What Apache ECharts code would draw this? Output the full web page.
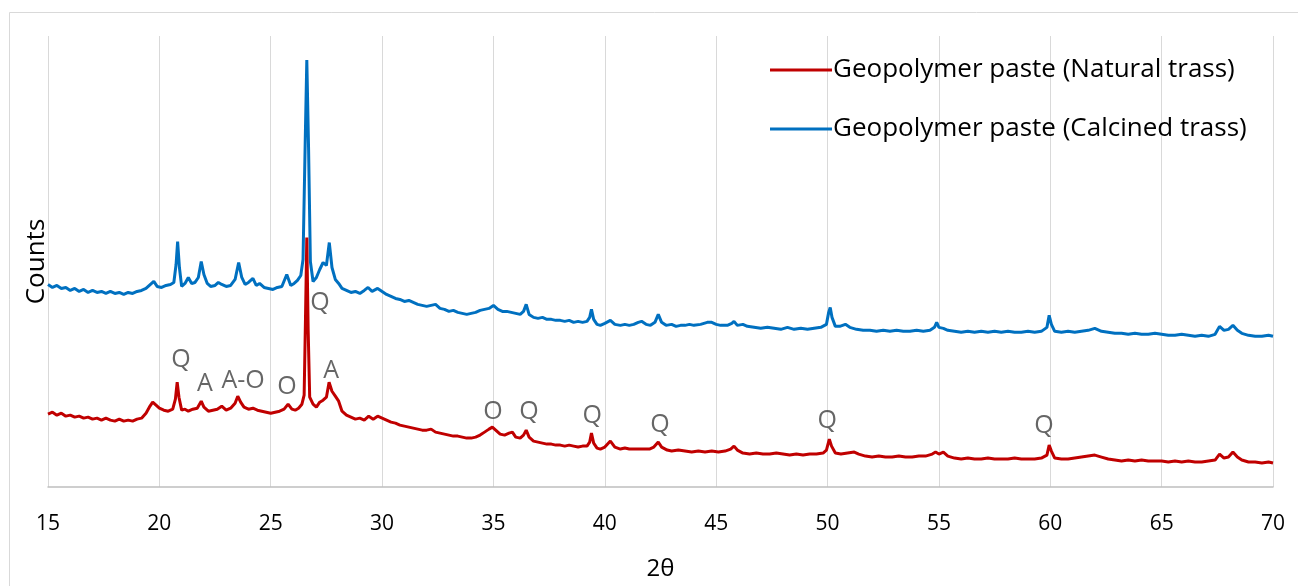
<!DOCTYPE html>
<html>
<head>
<meta charset="utf-8">
<script src="https://cdn.jsdelivr.net/npm/echarts@6/dist/echarts.min.js"></script>
<style>
html,body{margin:0;padding:0;background:#fff;}
#chart{width:1298px;height:586px;}
</style>
</head>
<body>
<div id="chart"></div>
<script>
// x tick settings
const xMin = 15, xMax = 70, xStep = 5;

const seriesNames = ['Geopolymer paste (Natural trass)', 'Geopolymer paste (Calcined trass)'];

// Geopolymer paste (Natural trass) — [2θ, counts (arbitrary)]
const naturalTrass = [
[15.0,73],[15.2,75],[15.4,72],[15.6,74],[15.8,71],[16.0,72],[16.2,70],[16.4,71],[16.6,69],[16.8,70],
[17.0,68],[17.2,69],[17.4,67],[17.6,69],[17.8,67],[18.0,66],[18.2,68],[18.4,66],[18.6,67],[18.8,66],
[19.0,68],[19.2,69],[19.4,74],[19.55,80],[19.7,85],[19.85,82],[20.0,79],[20.2,77],[20.4,76],[20.6,78],
[20.72,88],[20.8,105],[20.88,90],[21.0,77],[21.15,78],[21.3,76],[21.5,78],[21.7,79],[21.88,86],[22.0,80],
[22.2,76],[22.4,77],[22.6,78],[22.8,81],[23.0,77],[23.2,79],[23.4,84],[23.52,91],[23.65,85],[23.8,80],
[24.0,78],[24.2,79],[24.4,77],[24.6,76],[24.8,75],[25.0,74],[25.2,75],[25.4,76],[25.6,78],[25.78,83],
[25.95,78],[26.1,77],[26.25,79],[26.4,83],[26.5,92],[26.56,168],[26.62,250],[26.68,158],[26.75,90],[26.9,83],
[27.05,80],[27.2,85],[27.35,87],[27.5,90],[27.62,105],[27.75,96],[27.9,91],[28.05,86],[28.2,76],[28.4,72],
[28.6,70],[28.8,68],[29.0,69],[29.2,67],[29.4,71],[29.6,68],[29.8,71],[30.0,69],[30.2,67],[30.4,65],
[30.6,64],[30.8,62],[31.0,61],[31.2,60],[31.4,59],[31.6,58],[31.8,57],[32.0,57],[32.2,58],[32.4,55],
[32.6,54],[32.8,53],[33.0,52],[33.2,51],[33.4,51],[33.6,50],[33.8,49],[34.0,49],[34.2,50],[34.4,52],
[34.6,55],[34.8,58],[34.95,60],[35.1,57],[35.3,53],[35.5,52],[35.7,54],[35.85,55],[36.0,50],[36.2,49],
[36.35,52],[36.47,57],[36.6,50],[36.8,46],[37.0,45],[37.2,44],[37.4,43],[37.6,43],[37.8,42],[38.0,42],
[38.2,41],[38.4,42],[38.6,41],[38.8,40],[39.0,41],[39.2,41],[39.32,45],[39.4,54],[39.5,44],[39.65,39],
[39.8,38],[40.0,40],[40.25,46],[40.45,40],[40.7,38],[40.9,39],[41.1,38],[41.4,38],[41.7,38],[42.0,38],
[42.2,40],[42.4,45],[42.55,40],[42.8,37],[43.0,36],[43.3,37],[43.6,36],[43.9,35],[44.2,36],[44.5,35],
[44.8,36],[45.1,35],[45.4,36],[45.65,38],[45.8,41],[45.95,37],[46.2,34],[46.5,33],[46.8,34],[47.1,33],
[47.4,33],[47.7,34],[48.0,33],[48.3,32],[48.6,33],[48.9,32],[49.2,33],[49.5,33],[49.8,34],[49.95,37],
[50.08,48],[50.18,41],[50.35,34],[50.6,33],[50.9,34],[51.2,35],[51.4,33],[51.7,31],[52.0,30],[52.3,31],
[52.6,30],[52.9,30],[53.2,31],[53.5,30],[53.8,30],[54.1,31],[54.4,31],[54.7,33],[54.85,35],[55.0,33],
[55.2,35],[55.4,31],[55.7,29],[56.0,28],[56.3,29],[56.6,28],[56.9,28],[57.2,29],[57.5,28],[57.8,28],
[58.1,28],[58.4,29],[58.7,28],[59.0,28],[59.3,28],[59.6,29],[59.85,32],[59.95,42],[60.05,36],[60.2,29],
[60.5,28],[60.8,28],[61.1,29],[61.4,30],[61.7,31],[62.0,32],[62.3,30],[62.6,28],[62.9,27],[63.2,26],
[63.5,27],[63.8,26],[64.1,27],[64.4,26],[64.7,26],[65.0,26],[65.3,25],[65.6,26],[65.9,25],[66.2,26],
[66.5,25],[66.8,25],[67.1,26],[67.4,27],[67.6,33],[67.8,29],[68.0,30],[68.2,35],[68.4,30],[68.6,27],
[68.9,25],[69.2,25],[69.5,24],[69.8,25],[70.0,24]
];

// Geopolymer paste (Calcined trass) — [2θ, counts (arbitrary)]
const calcinedTrass = [
[15.0,203],[15.2,200],[15.4,202],[15.6,199],[15.8,200],[16.0,197],[16.2,199],[16.4,196],[16.6,198],[16.8,195],
[17.0,197],[17.2,195],[17.4,196],[17.6,194],[17.8,196],[18.0,194],[18.2,195],[18.4,193],[18.6,195],[18.8,194],
[19.0,196],[19.2,197],[19.4,199],[19.6,203],[19.75,206],[19.9,201],[20.1,200],[20.3,202],[20.5,203],[20.65,205],
[20.75,223],[20.82,246],[20.9,220],[21.0,201],[21.15,204],[21.3,210],[21.45,204],[21.6,205],[21.75,210],[21.88,226],
[22.0,213],[22.15,204],[22.3,201],[22.5,202],[22.65,205],[22.8,203],[23.0,201],[23.2,202],[23.4,208],[23.56,225],
[23.7,210],[23.85,203],[24.0,205],[24.2,209],[24.35,202],[24.5,204],[24.7,200],[24.9,199],[25.1,198],[25.3,200],
[25.5,201],[25.72,213],[25.9,202],[26.05,204],[26.2,207],[26.35,212],[26.45,228],[26.55,348],[26.62,428],[26.7,338],
[26.78,226],[26.9,206],[27.05,210],[27.2,218],[27.35,225],[27.5,222],[27.63,245],[27.75,220],[27.9,208],[28.05,204],
[28.2,199],[28.4,197],[28.6,195],[28.8,196],[29.0,194],[29.2,197],[29.37,200],[29.55,196],[29.8,199],[30.0,196],
[30.2,193],[30.4,191],[30.6,189],[30.8,188],[31.0,186],[31.2,187],[31.4,185],[31.6,183],[31.8,182],[32.0,181],
[32.2,182],[32.4,183],[32.6,179],[32.8,178],[33.0,176],[33.2,177],[33.4,175],[33.6,174],[33.8,173],[34.0,174],
[34.2,175],[34.4,177],[34.6,178],[34.8,179],[35.0,182],[35.2,178],[35.4,176],[35.6,176],[35.8,175],[36.0,174],
[36.2,173],[36.35,176],[36.47,183],[36.6,173],[36.8,170],[37.0,169],[37.2,170],[37.4,168],[37.6,168],[37.8,167],
[38.0,167],[38.2,166],[38.4,167],[38.6,165],[38.8,166],[39.0,165],[39.2,166],[39.32,170],[39.4,178],[39.5,168],
[39.65,163],[39.8,162],[40.0,164],[40.25,167],[40.45,163],[40.7,162],[40.9,163],[41.1,162],[41.3,163],[41.5,165],
[41.65,166],[41.85,163],[42.05,162],[42.25,165],[42.4,173],[42.55,165],[42.75,162],[43.0,163],[43.2,161],[43.4,162],
[43.6,162],[43.8,163],[44.0,162],[44.3,163],[44.6,165],[44.8,165],[45.0,163],[45.2,162],[45.5,162],[45.7,164],
[45.8,166],[45.95,162],[46.2,163],[46.4,161],[46.7,160],[47.0,159],[47.3,160],[47.6,159],[47.9,158],[48.2,160],
[48.5,158],[48.8,159],[49.1,158],[49.4,159],[49.7,160],[49.95,163],[50.05,175],[50.12,180],[50.2,170],[50.35,161],
[50.55,161],[50.8,163],[51.0,160],[51.3,158],[51.6,157],[51.9,157],[52.2,156],[52.5,157],[52.8,156],[53.1,157],
[53.4,156],[53.7,156],[54.0,157],[54.3,156],[54.6,157],[54.8,160],[54.9,165],[55.0,160],[55.2,159],[55.4,157],
[55.7,156],[56.0,155],[56.3,156],[56.6,155],[56.9,156],[57.2,155],[57.5,156],[57.8,155],[58.1,156],[58.4,155],
[58.7,155],[59.0,156],[59.3,155],[59.6,156],[59.85,160],[59.95,172],[60.05,163],[60.2,156],[60.5,155],[60.8,156],
[61.1,155],[61.4,156],[61.7,157],[62.0,159],[62.3,156],[62.6,155],[62.9,154],[63.2,154],[63.5,153],[63.8,154],
[64.1,153],[64.4,153],[64.7,154],[65.0,153],[65.3,152],[65.6,152],[65.9,153],[66.2,152],[66.5,151],[66.8,152],
[67.1,151],[67.4,153],[67.6,161],[67.8,157],[68.0,158],[68.2,162],[68.4,157],[68.6,154],[68.9,152],[69.2,151],
[69.5,151],[69.8,152],[70.0,151]
];

// Phase annotations: label, 2θ, counts
const peakLabels = ['Q','Q','A','A-O','O','A','O','Q','Q','Q','Q','Q'];
const peakLabelX = [27.21,20.97,22.05,23.76,25.73,27.71,34.98,36.6,39.43,42.48,49.98,59.72];
const peakLabelY = [185,127,103,106,100,116,75,75,71,62,66,61];

const chart = echarts.init(document.getElementById('chart'));
const FONT = 'Open Sans';
const option = {
  backgroundColor: '#ffffff',
  animation: false,
  textStyle: {fontFamily: FONT},
  graphic: [{
    type: 'rect', shape: {x: 9.5, y: 12.5, width: 1320, height: 620},
    style: {fill: 'none', stroke: '#d9d9d9', lineWidth: 1}, silent: true, z: -1
  }],
  grid: {left: 48, right: 25, top: 36, bottom: 98, containLabel: false},
  legend: {
    orient: 'vertical', left: 765, top: 50, itemGap: 29,
    itemWidth: 62, itemHeight: 3, icon: 'rect',
    textStyle: {fontFamily: FONT, fontSize: 26, lineHeight: 30, color: '#000', padding: [0,0,0,-4]},
    data: seriesNames
  },
  xAxis: {
    type: 'value', min: xMin, max: xMax, interval: xStep,
    name: '2θ', nameLocation: 'middle', nameGap: 70,
    nameTextStyle: {fontFamily: FONT, fontSize: 24, color: '#000'},
    axisLine: {show: true, lineStyle: {color: '#bfbfbf', width: 1.5}},
    axisTick: {show: false},
    axisLabel: {fontFamily: FONT, fontSize: 21, color: '#000', margin: 27},
    splitLine: {show: true, lineStyle: {color: '#d9d9d9', width: 1}}
  },
  yAxis: {
    type: 'value', min: 0, max: 452,
    name: 'Counts', nameLocation: 'middle', nameGap: -2,
    nameTextStyle: {fontFamily: FONT, fontSize: 26, color: '#000'},
    axisLine: {show: false}, axisTick: {show: false},
    axisLabel: {show: false}, splitLine: {show: false}
  },
  series: [
    {
      name: seriesNames[0], type: 'line', data: naturalTrass,
      showSymbol: false, symbol: 'none', smooth: false,
      lineStyle: {color: '#C00000', width: 3}, itemStyle: {color: '#C00000'}, z: 3
    },
    {
      name: seriesNames[1], type: 'line', data: calcinedTrass,
      showSymbol: false, symbol: 'none', smooth: false,
      lineStyle: {color: '#0070C0', width: 3}, itemStyle: {color: '#0070C0'}, z: 2
    },
    {
      name: 'labels', type: 'scatter', symbolSize: 0, silent: true, z: 5,
      data: peakLabels.map((t, i) => ({name: t, value: [peakLabelX[i], peakLabelY[i]]})),
      label: {show: true, position: 'inside', formatter: p => p.name,
        fontFamily: FONT, fontSize: 25, color: '#404040'}
    }
  ]
};
chart.setOption(option);
</script>
</body>
</html>
